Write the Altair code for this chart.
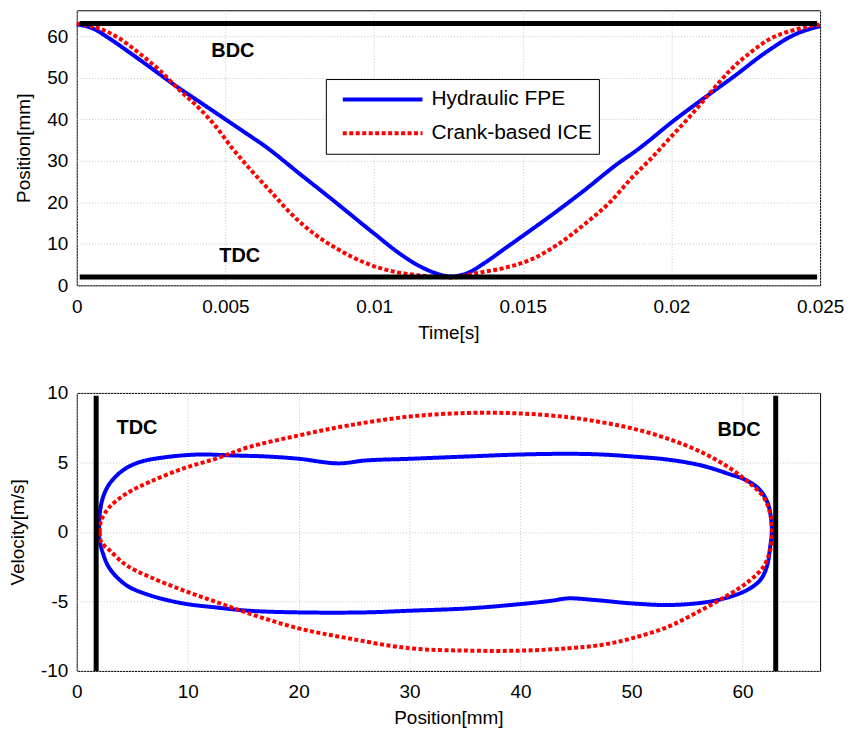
import altair as alt
import pandas as pd

series_names = ["Hydraulic FPE", "Crank-based ICE"]
series_colors = ["#0000ff", "#ff0000"]

# ---- top panel: position vs time ----
t_fpe = [0.0, 0.00055, 0.0011, 0.0019, 0.00256, 0.00323, 0.00412, 0.00501, 0.0059, 0.00635,
         0.00657, 0.00747, 0.00858, 0.00925, 0.01003, 0.01081, 0.01148, 0.01204, 0.0126, 0.01316,
         0.01372, 0.01439, 0.015, 0.01595, 0.01706, 0.01818, 0.01885, 0.01907, 0.02, 0.02097,
         0.02209, 0.0232, 0.0241, 0.025]
pos_fpe = [62.8, 61.8, 59.4, 55.4, 52.0, 48.5, 44.2, 39.9, 35.6, 33.4,
           32.2, 27.0, 20.7, 16.8, 12.3, 7.9, 4.8, 3.0, 2.1, 3.0,
           5.4, 8.8, 11.9, 16.8, 22.8, 29.2, 32.6, 33.8, 39.2, 44.4,
           50.2, 56.2, 60.2, 62.4]

t_ice = [0.0, 0.00077, 0.00144, 0.00211, 0.00278, 0.00345, 0.00412, 0.00468, 0.00523, 0.0059,
         0.00657, 0.00724, 0.00802, 0.0088, 0.0097, 0.01059, 0.01148, 0.0126, 0.01349, 0.01439,
         0.01528, 0.01617, 0.01706, 0.01796, 0.01863, 0.0193, 0.01997, 0.02064, 0.02131, 0.02198,
         0.02265, 0.02331, 0.0241, 0.025]
pos_ice = [63.0, 61.8, 59.4, 55.8, 51.8, 47.0, 42.6, 38.2, 33.0, 27.4,
           22.2, 17.0, 12.2, 8.6, 5.4, 3.4, 2.4, 1.9, 3.0, 4.2,
           6.2, 9.8, 14.6, 20.2, 25.6, 30.4, 35.6, 40.8, 46.4, 51.8,
           56.0, 59.3, 61.4, 62.8]

top_ref_pos = [63, 2]
top_ref_t = [0.0001, 0.0249]
top_labels = ["BDC", "TDC"]
top_label_t = [0.00525, 0.00548]
top_label_pos = [56.4, 7.15]

time_ticks = [0, 0.005, 0.01, 0.015, 0.02, 0.025]
pos_ticks_top = [0, 10, 20, 30, 40, 50, 60]

# ---- bottom panel: velocity vs position ----
x_fpe = [2.0, 2.07, 2.37, 2.96, 4.16, 5.66, 8.05, 11.05, 14.04, 17.04, 20.03, 23.6, 26.0, 30.0,
         35.3, 40.0, 44.3, 47.3, 50.0, 53.3, 56.3, 58.7, 60.4, 61.6, 62.3, 62.6, 62.65,
         62.5, 62.2, 61.6, 60.4, 58.4, 56.3, 53.3, 50.0, 46.7, 44.3, 42.8, 40.0, 35.3,
         30.0, 26.0, 20.0, 15.5, 12.5, 9.55, 6.56, 4.46, 2.96, 2.37, 2.07, 2.0]
v_fpe = [0, 1.3, 2.5, 3.47, 4.43, 5.02, 5.38, 5.57, 5.5, 5.43, 5.26, 4.93, 5.14, 5.26,
         5.43, 5.57, 5.62, 5.57, 5.43, 5.2, 4.78, 4.19, 3.7, 3.0, 2.03, 0.84, 0,
         -1.08, -2.5, -3.47, -4.19, -4.78, -5.1, -5.26, -5.14, -4.9, -4.78, -4.95, -5.19, -5.5,
         -5.67, -5.79, -5.79, -5.67, -5.43, -5.14, -4.55, -3.83, -2.63, -1.56, -0.6, 0]

x_ice = [2.07, 2.2, 2.96, 4.46, 6.56, 9.55, 12.5, 15.5, 20.0, 24.5, 30.0, 35.3, 40.0, 44.3,
         47.3, 50.0, 53.3, 56.3, 58.7, 60.7, 61.9, 62.5, 62.65,
         62.5, 61.9, 60.7, 58.7, 56.3, 53.3, 50.0, 47.3, 44.3, 40.0, 35.3, 30.0, 24.5,
         20.0, 15.5, 12.5, 9.55, 6.56, 4.46, 2.96, 2.2, 2.07]
v_ice = [0, 0.84, 1.79, 2.75, 3.59, 4.55, 5.26, 6.1, 6.94, 7.66, 8.3, 8.56, 8.52, 8.25,
         7.89, 7.46, 6.7, 5.74, 4.67, 3.47, 2.51, 1.3, 0,
         -1.3, -2.5, -3.47, -4.55, -5.62, -6.82, -7.66, -8.13, -8.37, -8.54, -8.54, -8.37, -7.66,
         -6.94, -5.86, -5.02, -4.19, -3.23, -2.39, -1.32, -0.72, 0]

bot_ref_x = [1.75, 63]
bot_ref_v = [-10, 9.8]
bot_labels = ["TDC", "BDC"]
bot_label_x = [5.43, 59.7]
bot_label_v = [7.48, 7.31]

pos_ticks_bot = [0, 10, 20, 30, 40, 50, 60]
vel_ticks = [-10, -5, 0, 5, 10]

FONT = "Liberation Sans"

top_df = pd.DataFrame({
    "t": t_fpe + t_ice,
    "pos": pos_fpe + pos_ice,
    "series": [series_names[0]] * len(t_fpe) + [series_names[1]] * len(t_ice),
    "order": list(range(len(t_fpe))) + list(range(len(t_ice))),
})
top_rule_df = pd.DataFrame({"pos": top_ref_pos, "t": [top_ref_t[0]] * 2, "t2": [top_ref_t[1]] * 2})
top_text_df = pd.DataFrame({"t": top_label_t, "pos": top_label_pos, "label": top_labels})

bot_df = pd.DataFrame({
    "position": x_fpe + x_ice,
    "velocity": v_fpe + v_ice,
    "series": [series_names[0]] * len(x_fpe) + [series_names[1]] * len(x_ice),
    "order": list(range(len(x_fpe))) + list(range(len(x_ice))),
})
bot_rule_df = pd.DataFrame({"position": bot_ref_x, "velocity": [bot_ref_v[0]] * 2,
                            "velocity2": [bot_ref_v[1]] * 2})
bot_text_df = pd.DataFrame({"position": bot_label_x, "velocity": bot_label_v, "label": bot_labels})

color_scale = alt.Scale(domain=series_names, range=series_colors)
dash_scale = alt.Scale(domain=series_names, range=[[1, 0], [4, 2.5]])

legend = alt.Legend(
    title=None, orient="none", legendX=250, legendY=69,
    symbolType="stroke", symbolSize=6400, symbolStrokeWidth=4,
    clipHeight=29, rowPadding=5, padding=6, symbolOffset=9, labelOffset=7,
    labelFont=FONT, labelFontSize=21, labelColor="black", labelLimit=400,
    strokeColor="black", fillColor="white",
)

x_top = alt.X("t:Q", scale=alt.Scale(domain=[0, 0.025], nice=False),
              axis=alt.Axis(values=time_ticks, title="Time[s]",
                            labelExpr="format(datum.value, '~g')"))
y_top = alt.Y("pos:Q", scale=alt.Scale(domain=[0, 66.2], nice=False),
              axis=alt.Axis(values=pos_ticks_top, title="Position[mm]",
                            labelExpr="'' + datum.value"))

top_lines = alt.Chart(top_df).mark_line(strokeWidth=4, interpolate="monotone").encode(
    x=x_top, y=y_top,
    color=alt.Color("series:N", scale=color_scale, legend=legend),
    strokeDash=alt.StrokeDash("series:N", scale=dash_scale, legend=legend),
    order="order:Q",
)
top_rules = alt.Chart(top_rule_df).mark_rule(strokeWidth=5, color="black").encode(
    x="t:Q", x2="t2:Q", y="pos:Q")
top_text = alt.Chart(top_text_df).mark_text(font=FONT, fontSize=20, fontWeight="bold",
                                            color="black").encode(
    x="t:Q", y="pos:Q", text="label:N")

top = alt.layer(top_lines, top_rules, top_text).properties(width=746, height=276)

x_bot = alt.X("position:Q", scale=alt.Scale(domain=[0, 67], nice=False),
              axis=alt.Axis(values=pos_ticks_bot, title="Position[mm]",
                            labelExpr="'' + datum.value"))
y_bot = alt.Y("velocity:Q", scale=alt.Scale(domain=[-10, 10], nice=False),
              axis=alt.Axis(values=vel_ticks, title="Velocity[m/s]",
                            labelExpr="'' + datum.value"))

bot_lines = alt.Chart(bot_df).mark_line(strokeWidth=4, interpolate="catmull-rom").encode(
    x=x_bot, y=y_bot,
    color=alt.Color("series:N", scale=color_scale, legend=None),
    strokeDash=alt.StrokeDash("series:N", scale=dash_scale, legend=None),
    order="order:Q",
)
bot_rules = alt.Chart(bot_rule_df).mark_rule(strokeWidth=5, color="black").encode(
    x="position:Q", y="velocity:Q", y2="velocity2:Q")
bot_text = alt.Chart(bot_text_df).mark_text(font=FONT, fontSize=20, fontWeight="bold",
                                            color="black").encode(
    x="position:Q", y="velocity:Q", text="label:N")

bottom = alt.layer(bot_lines, bot_rules, bot_text).properties(width=746, height=279)

chart = alt.vconcat(top, bottom, spacing=40).resolve_scale(
    color="independent", strokeDash="independent"
).properties(padding=0).configure_view(
    stroke="black", strokeWidth=1
).configure_axis(
    grid=True, gridColor="#c4c4c4", gridDash=[1, 2], gridWidth=1,
    domain=False, ticks=False, labelFlush=False,
    labelFont=FONT, labelFontSize=19, labelColor="black",
    titleFont=FONT, titleFontSize=19, titleFontWeight="normal", titleColor="black",
).configure_axisX(
    labelPadding=12, titlePadding=7,
).configure_axisY(
    labelPadding=9, titlePadding=13,
)

chart.save("out.html", embed_options={"renderer": "svg", "actions": False})
